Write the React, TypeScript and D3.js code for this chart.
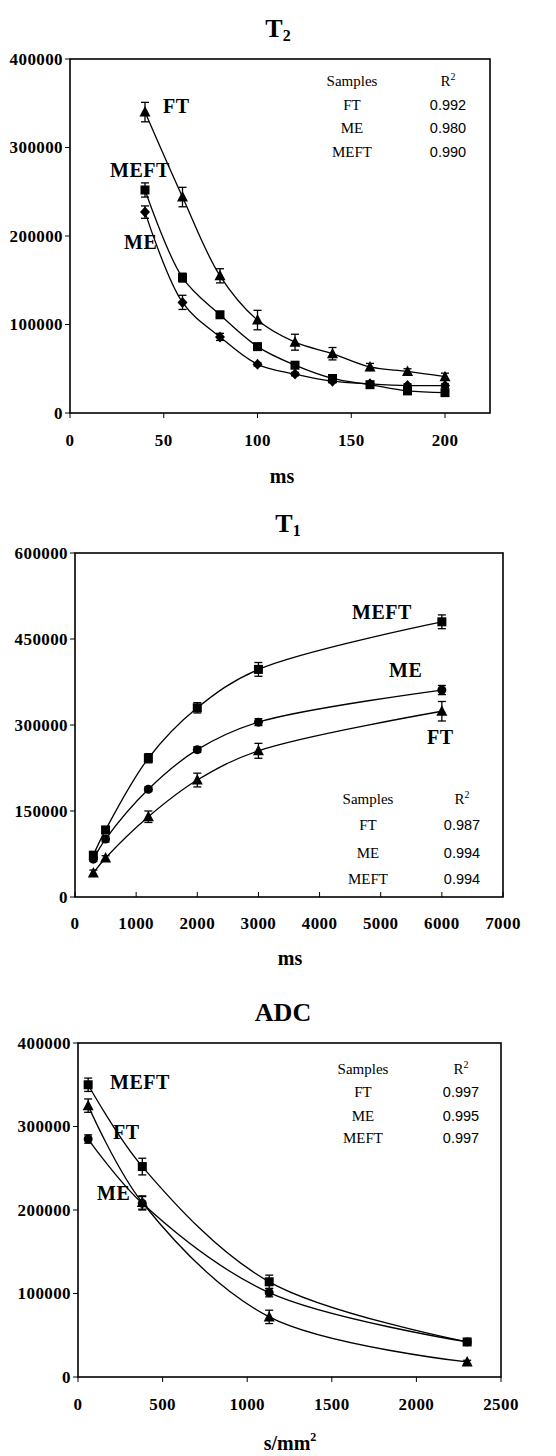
import React from "react";
import * as d3 from "d3";

// ---------- DATA ----------
const t2X = [40, 60, 80, 100, 120, 140, 160, 180, 200];
const t2FT = [340000, 244000, 155000, 105000, 80000, 67000, 52000, 47000, 41000];
const t2FTErr = [11000, 11000, 8000, 11000, 9000, 7000, 4000, 3000, 4000];
const t2MEFT = [252000, 153000, 111000, 75000, 54000, 39000, 32000, 25000, 23000];
const t2MEFTErr = [8000, 5000, 3000, 3000, 3000, 3000, 2000, 2000, 2000];
const t2ME = [227000, 125000, 86000, 55000, 44000, 36000, 33000, 31000, 31000];
const t2MEErr = [7000, 8000, 4000, 2000, 2000, 2000, 2000, 2000, 2000];
const t2XTicks = [0, 50, 100, 150, 200];
const t2YTicks = [0, 100000, 200000, 300000, 400000];
const t2R2 = ["0.992", "0.980", "0.990"];

const t1X = [300, 500, 1200, 2000, 3000, 6000];
const t1MEFT = [73000, 117000, 242000, 330000, 397000, 480000];
const t1MEFTErr = [5000, 5000, 8000, 9000, 12000, 12000];
const t1ME = [66000, 101000, 188000, 257000, 305000, 361000];
const t1MEErr = [4000, 5000, 4000, 5000, 6000, 8000];
const t1FT = [42000, 68000, 140000, 204000, 255000, 324000];
const t1FTErr = [5000, 4000, 10000, 12000, 13000, 17000];
const t1XTicks = [0, 1000, 2000, 3000, 4000, 5000, 6000, 7000];
const t1YTicks = [0, 150000, 300000, 450000, 600000];
const t1R2 = ["0.987", "0.994", "0.994"];

const adcX = [60, 380, 1130, 2300];
const adcMEFT = [350000, 252000, 114000, 42000];
const adcMEFTErr = [8000, 10000, 8000, 3000];
const adcFT = [325000, 209000, 72000, 18000];
const adcFTErr = [8000, 8000, 8000, 2000];
const adcME = [285000, 208000, 101000, 42000];
const adcMEErr = [5000, 8000, 5000, 2000];
const adcXTicks = [0, 500, 1000, 1500, 2000, 2500];
const adcYTicks = [0, 100000, 200000, 300000, 400000];
const adcR2 = ["0.997", "0.995", "0.997"];

const sampleNames = ["FT", "ME", "MEFT"];

// ---------- STYLE ----------
const SERIF = "'Liberation Serif', 'Times New Roman', serif";
const SANS = "'Liberation Sans', Arial, sans-serif";

type Series = { name: string; ys: number[]; err: number[]; marker: string };

function Marker({ type, x, y }: { type: string; x: number; y: number }) {
  if (type === "square") return <rect x={x - 4.5} y={y - 4.5} width={9} height={9} fill="#000" />;
  if (type === "triangle")
    return <path d={`M${x},${y - 6} L${x + 5.5},${y + 4.5} L${x - 5.5},${y + 4.5} Z`} fill="#000" />;
  if (type === "diamond")
    return <path d={`M${x},${y - 5.5} L${x + 5},${y} L${x},${y + 5.5} L${x - 5},${y} Z`} fill="#000" />;
  return <circle cx={x} cy={y} r={4.5} fill="#000" />;
}

type PanelProps = {
  left: number; right: number; top: number; bottom: number;
  xDomain: [number, number]; yDomain: [number, number];
  xs: number[]; series: Series[];
  xTicks: number[]; yTicks: number[];
  xTickY: number; xTickDir: number;
  title: string; titleSub: string; titleX: number; titleY: number;
  xLabel: React.ReactNode; xLabelX: number; xLabelY: number;
  legendX1: number; legendX2: number; legendYs: number[]; r2: string[];
  labels: { text: string; x: number; y: number }[];
};

function Panel(p: PanelProps) {
  const x = d3.scaleLinear().domain(p.xDomain).range([p.left, p.right]);
  const y = d3.scaleLinear().domain(p.yDomain).range([p.bottom, p.top]);
  const line = d3
    .line<[number, number]>()
    .x((d) => x(d[0]))
    .y((d) => y(d[1]))
    .curve(d3.curveCatmullRom.alpha(0.5));
  return (
    <g>
      <text x={p.titleX} y={p.titleY} textAnchor="middle" dominantBaseline="central"
        fontFamily={SERIF} fontWeight="bold" fontSize={26}>
        {p.title}
        <tspan fontSize={16} dy={7}>{p.titleSub}</tspan>
      </text>
      <rect x={p.left} y={p.top} width={p.right - p.left} height={p.bottom - p.top}
        fill="none" stroke="#000" strokeWidth={1.6} />
      {p.yTicks.map((t) => (
        <g key={"y" + t}>
          <line x1={p.left - 5} x2={p.left} y1={y(t)} y2={y(t)} stroke="#000" strokeWidth={1} />
          <text x={p.left - 7} y={y(t)} textAnchor="end" dominantBaseline="central"
            fontFamily={SERIF} fontWeight="bold" fontSize={17} letterSpacing={0.4}>{t}</text>
        </g>
      ))}
      {p.xTicks.map((t) => (
        <g key={"x" + t}>
          <line x1={x(t)} x2={x(t)} y1={p.bottom} y2={p.bottom + 5 * p.xTickDir} stroke="#000" strokeWidth={1} />
          <text x={x(t)} y={p.xTickY} textAnchor="middle" dominantBaseline="central"
            fontFamily={SERIF} fontWeight="bold" fontSize={17} letterSpacing={0.4}>{t}</text>
        </g>
      ))}
      <text x={p.xLabelX} y={p.xLabelY} textAnchor="middle"
        fontFamily={SERIF} fontWeight="bold" fontSize={20}>{p.xLabel}</text>
      {/* legend table */}
      <text x={p.legendX1} y={p.legendYs[0]} textAnchor="middle" dominantBaseline="central"
        fontFamily={SERIF} fontSize={15}>Samples</text>
      <text x={p.legendX2} y={p.legendYs[0]} textAnchor="middle" dominantBaseline="central"
        fontFamily={SERIF} fontSize={15}>R<tspan fontSize={10} dy={-5}>2</tspan></text>
      {sampleNames.map((n, i) => (
        <g key={"lg" + n}>
          <text x={p.legendX1} y={p.legendYs[i + 1]} textAnchor="middle" dominantBaseline="central"
            fontFamily={SERIF} fontSize={15}>{n}</text>
          <text x={p.legendX2} y={p.legendYs[i + 1]} textAnchor="middle" dominantBaseline="central"
            fontFamily={SANS} fontSize={14.5}>{p.r2[i]}</text>
        </g>
      ))}
      {p.series.map((s) => {
        const pts: [number, number][] = p.xs.map((xv, i) => [xv, s.ys[i]]);
        return (
          <g key={s.name}>
            <path d={line(pts) || ""} fill="none" stroke="#000" strokeWidth={1.3} />
            {pts.map((d, i) => {
              const cx = x(d[0]);
              const yt = y(d[1] + s.err[i]);
              const yb = y(d[1] - s.err[i]);
              return (
                <g key={i}>
                  <line x1={cx} x2={cx} y1={yt} y2={yb} stroke="#000" strokeWidth={1.3} />
                  <line x1={cx - 4} x2={cx + 4} y1={yt} y2={yt} stroke="#000" strokeWidth={1.3} />
                  <line x1={cx - 4} x2={cx + 4} y1={yb} y2={yb} stroke="#000" strokeWidth={1.3} />
                  <Marker type={s.marker} x={cx} y={y(d[1])} />
                </g>
              );
            })}
          </g>
        );
      })}
      {p.labels.map((l) => (
        <text key={"lab" + l.text} x={l.x} y={l.y} dominantBaseline="central"
          fontFamily={SERIF} fontWeight="bold" fontSize={20} letterSpacing={0.5}>{l.text}</text>
      ))}
    </g>
  );
}

export default function App() {
  return (
    <svg width={556} height={1456} style={{ position: "absolute", left: 0, top: 0, background: "#fff" }}>
      <rect x={0} y={0} width={556} height={1456} fill="#fff" />
      <Panel
        left={70} right={490} top={59} bottom={413}
        xDomain={[0, 224]} yDomain={[0, 400000]}
        xs={t2X}
        series={[
          { name: "FT", ys: t2FT, err: t2FTErr, marker: "triangle" },
          { name: "MEFT", ys: t2MEFT, err: t2MEFTErr, marker: "square" },
          { name: "ME", ys: t2ME, err: t2MEErr, marker: "diamond" },
        ]}
        xTicks={t2XTicks} yTicks={t2YTicks} xTickY={440} xTickDir={1}
        title="T" titleSub="2" titleX={278} titleY={28}
        xLabel="ms" xLabelX={282} xLabelY={483}
        legendX1={352} legendX2={448} legendYs={[81, 105, 128, 152]} r2={t2R2}
        labels={[
          { text: "FT", x: 163, y: 106 },
          { text: "MEFT", x: 110, y: 170 },
          { text: "ME", x: 124, y: 242 },
        ]}
      />
      <Panel
        left={75} right={503} top={553} bottom={897}
        xDomain={[0, 7000]} yDomain={[0, 600000]}
        xs={t1X}
        series={[
          { name: "MEFT", ys: t1MEFT, err: t1MEFTErr, marker: "square" },
          { name: "ME", ys: t1ME, err: t1MEErr, marker: "circle" },
          { name: "FT", ys: t1FT, err: t1FTErr, marker: "triangle" },
        ]}
        xTicks={t1XTicks} yTicks={t1YTicks} xTickY={923} xTickDir={-1}
        title="T" titleSub="1" titleX={288} titleY={523}
        xLabel="ms" xLabelX={290} xLabelY={965}
        legendX1={368} legendX2={462} legendYs={[799, 825, 853, 879]} r2={t1R2}
        labels={[
          { text: "MEFT", x: 352, y: 612 },
          { text: "ME", x: 389, y: 670 },
          { text: "FT", x: 427, y: 737 },
        ]}
      />
      <Panel
        left={78} right={501} top={1043} bottom={1377}
        xDomain={[0, 2500]} yDomain={[0, 400000]}
        xs={adcX}
        series={[
          { name: "MEFT", ys: adcMEFT, err: adcMEFTErr, marker: "square" },
          { name: "FT", ys: adcFT, err: adcFTErr, marker: "triangle" },
          { name: "ME", ys: adcME, err: adcMEErr, marker: "circle" },
        ]}
        xTicks={adcXTicks} yTicks={adcYTicks} xTickY={1404} xTickDir={1}
        title="ADC" titleSub="" titleX={283} titleY={1012}
        xLabel={<>s/mm<tspan fontSize={12} dy={-9}>2</tspan></>} xLabelX={290} xLabelY={1450}
        legendX1={363} legendX2={461} legendYs={[1069, 1092, 1116, 1138]} r2={adcR2}
        labels={[
          { text: "MEFT", x: 110, y: 1082 },
          { text: "FT", x: 113, y: 1132 },
          { text: "ME", x: 97, y: 1193 },
        ]}
      />
    </svg>
  );
}
